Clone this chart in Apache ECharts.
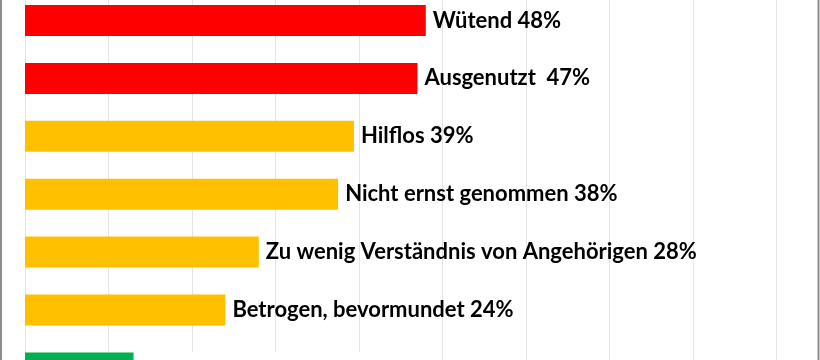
<!DOCTYPE html>
<html>
<head>
<meta charset="utf-8">
<script src="https://cdn.jsdelivr.net/npm/echarts@6/dist/echarts.min.js"></script>
<style>
html,body{margin:0;padding:0;background:#fff;overflow:hidden;}
#wrap{position:relative;width:820px;height:360px;overflow:hidden;}
#c{position:absolute;left:0;top:-40px;width:820px;height:440px;}
</style>
</head>
<body>
<div id="wrap"><div id="c"></div></div>
<script>
const categories = ['Wütend', 'Ausgenutzt', 'Hilflos', 'Nicht ernst genommen', 'Zu wenig Verständnis von Angehörigen', 'Betrogen, bevormundet', '(unten)'];
const values = [48, 47, 39.4, 37.5, 28, 24, 13];
const labels = ['Wütend 48%', 'Ausgenutzt  47%', 'Hilflos 39%', 'Nicht ernst genommen 38%', 'Zu wenig Verständnis von Angehörigen 28%', 'Betrogen, bevormundet 24%', ''];
const colors = ['#FF0000', '#FF0000', '#FFC000', '#FFC000', '#FFC000', '#FFC000', '#00B050'];
const xTicks = [0, 10, 20, 30, 40, 50, 60, 70, 80, 90];

const chart = echarts.init(document.getElementById('c'), null, {renderer: 'canvas'});
chart.setOption({
  animation: false,
  backgroundColor: '#ffffff',
  grid: {left: 25, right: 43.5, top: 31.55, height: 405.3, containLabel: false},
  xAxis: {
    type: 'value', min: xTicks[0], max: xTicks[xTicks.length - 1], interval: 10,
    axisLabel: {show: false}, axisLine: {show: false}, axisTick: {show: false},
    splitLine: {show: true, lineStyle: {color: '#e4e4e4', width: 1}}
  },
  yAxis: {
    type: 'category', inverse: true, data: categories,
    axisLabel: {show: false}, axisLine: {show: false}, axisTick: {show: false},
    splitLine: {show: false}
  },
  series: [{
    type: 'bar',
    barWidth: 31,
    data: values.map((v, i) => ({
      value: v,
      itemStyle: {color: colors[i]},
      label: labels[i] === '' ? {
        show: true, position: 'right', distance: 6, formatter: ' ',
        backgroundColor: '#ffffff', width: 300, height: 32
      } : undefined
    })),
    label: {
      show: true, position: 'right', distance: 7,
      formatter: p => labels[p.dataIndex],
      fontFamily: 'Lato', fontWeight: 'bold', fontSize: 22, color: '#000000'
    }
  }],
  graphic: [
    {type: 'line', shape: {x1: 1, y1: 0, x2: 1, y2: 440}, style: {stroke: '#8c8c8c', lineWidth: 2}},
    {type: 'line', shape: {x1: 818.5, y1: 0, x2: 818.5, y2: 440}, style: {stroke: '#8c8c8c', lineWidth: 2}}
  ]
});
</script>
</body>
</html>
